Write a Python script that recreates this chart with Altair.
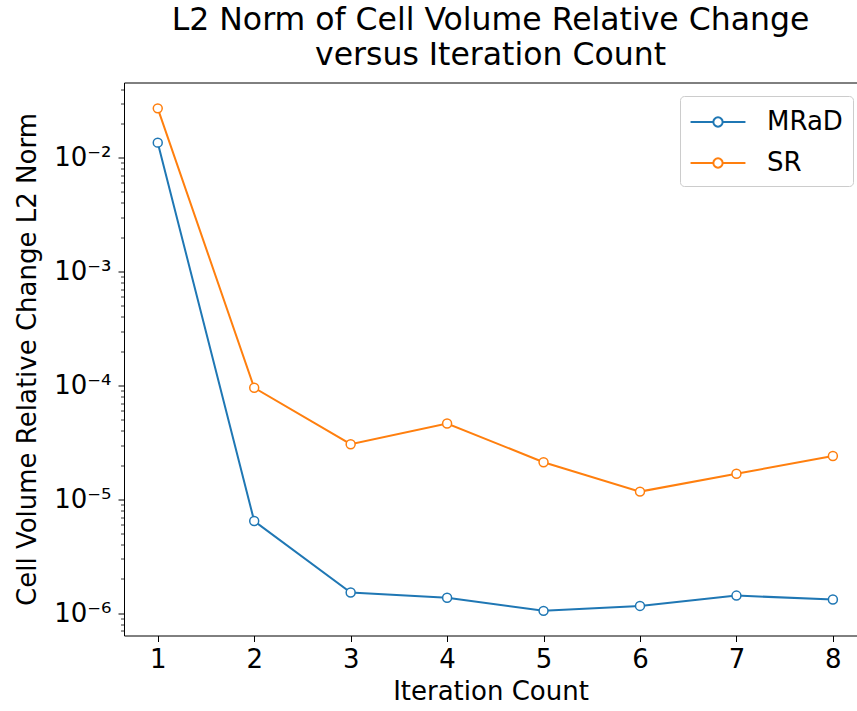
import altair as alt
import pandas as pd

iterations = [1, 2, 3, 4, 5, 6, 7, 8]
mrad = [0.01355, 6.45e-6, 1.52e-6, 1.37e-6, 1.05e-6, 1.16e-6, 1.43e-6, 1.32e-6]
sr = [0.0271, 9.55e-5, 3.05e-5, 4.64e-5, 2.12e-5, 1.17e-5, 1.68e-5, 2.4e-5]
series_names = ["MRaD", "SR"]
series_colors = ["#1f77b4", "#ff7f0e"]

major_exponents = [-6, -5, -4, -3, -2]
major_labels = ["10⁻⁶", "10⁻⁵", "10⁻⁴", "10⁻³", "10⁻²"]
y_domain = [6.38e-7, 0.0457]
x_domain = [0.65, 8.25]

rows = []
for it, a, b in zip(iterations, mrad, sr):
    rows.append({"iter": it, "value": a, "series": "MRaD"})
    rows.append({"iter": it, "value": b, "series": "SR"})
df = pd.DataFrame(rows)

tick_values = []
for e in range(-7, -1):
    for m in range(1, 10):
        v = float(f"{m}e{e}")
        if y_domain[0] <= v <= y_domain[1]:
            tick_values.append(v)

label_expr = ""
for e, lab in zip(major_exponents, major_labels):
    label_expr += f"abs(datum.value / 1e{e} - 1) < 1e-6 ? '{lab}' : "
label_expr += "''"
major_test = "abs(log(datum.value)/LN10 - round(log(datum.value)/LN10)) < 0.001"

FONT = "DejaVu Sans"

x_enc = alt.X(
    "iter:Q",
    scale=alt.Scale(domain=x_domain, nice=False, zero=False),
    axis=alt.Axis(
        values=iterations, format="d", title="Iteration Count", grid=False,
        tickSize=6, tickColor="black", domainColor="black", labelColor="black",
        labelFontSize=26, labelFont=FONT, labelPadding=5,
        titleFont=FONT, titleFontSize=26, titleFontWeight="normal",
        titleColor="black", titlePadding=6,
    ),
)
y_enc = alt.Y(
    "value:Q",
    scale=alt.Scale(type="log", domain=y_domain, nice=False),
    axis=alt.Axis(
        orient="left",
        values=tick_values, labelExpr=label_expr, grid=False,
        title="Cell Volume Relative Change L2 Norm",
        tickSize={"condition": {"test": major_test, "value": 6}, "value": 3.5},
        tickWidth={"condition": {"test": major_test, "value": 1}, "value": 0.8},
        tickColor="black", domainColor="black", labelColor="black",
        labelFontSize=26, labelFont=FONT, labelPadding=7, labelFlush=False,
        labelOverlap=False,
        titleFont=FONT, titleFontSize=26, titleFontWeight="normal",
        titleColor="black", titlePadding=13,
    ),
)

legend_symbol = (
    "M-1.83,0H-0.31M0.31,0H1.83"
    "M0.31,0A0.31,0.31,0,1,1,-0.31,0A0.31,0.31,0,1,1,0.31,0Z"
)

lines = alt.Chart(df).mark_line(
    strokeWidth=2,
    point=alt.OverlayMarkDef(filled=True, fill="white", size=80, strokeWidth=1.5),
).encode(
    x=x_enc,
    y=y_enc,
    stroke=alt.Stroke(
        "series:N",
        scale=alt.Scale(domain=series_names, range=series_colors),
        legend=alt.Legend(
            title=None, orient="none", legendX=556, legendY=13.5,
            symbolType=legend_symbol, symbolSize=900, symbolStrokeWidth=2,
            symbolFillColor="white", symbolOffset=12,
            labelFont=FONT, labelFontSize=26, labelColor="black", labelOffset=33,
            padding=10, rowPadding=12, strokeColor="#cccccc", cornerRadius=4,
            fillColor="white",
        ),
    ),
)

top_spine = alt.Chart(df).mark_point(opacity=0).encode(
    x=alt.X(
        "iter:Q",
        scale=alt.Scale(domain=x_domain, nice=False, zero=False),
        axis=alt.Axis(orient="top", labels=False, ticks=False, domain=True,
                      domainColor="black", title=None, grid=False),
    ),
    y=alt.Y("value:Q", scale=alt.Scale(type="log", domain=y_domain, nice=False),
            axis=None),
)

chart = (
    alt.layer(lines, top_spine)
    .resolve_axis(x="independent", y="independent")
    .properties(
        width=733,
        height=553,
        autosize=alt.AutoSizeParams(type="none"),
        padding={"left": 124, "top": 82.5, "right": 0, "bottom": 75.5},
        title=alt.TitleParams(
            text=["L2 Norm of Cell Volume Relative Change", "versus Iteration Count"],
            font=FONT, fontSize=31.5, fontWeight="normal", color="black",
            anchor="middle", lineHeight=35, offset=5,
        ),
        background="white",
    )
    .configure_view(stroke=None)
)

chart.save("out.html", embed_options={"renderer": "svg", "actions": False})
